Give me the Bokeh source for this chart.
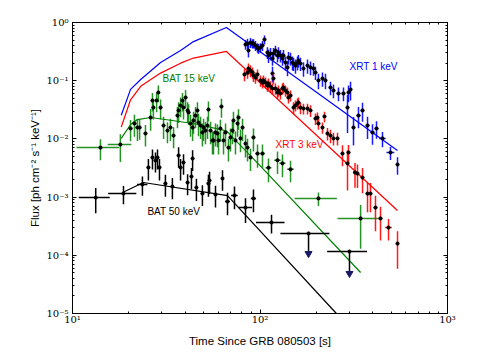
import numpy as np
from bokeh.plotting import figure
from bokeh.models import Range1d, LogAxis, FixedTicker, Label
from bokeh.embed import file_html
from bokeh.resources import INLINE

# ---------------- model curves ----------------
m_xrt1_t = [18.2, 20.4, 23.1, 29.5, 37.7, 44.2, 66.2, 541.0]
m_xrt1_f = [0.0255, 0.071, 0.105, 0.205, 0.33, 0.47, 0.82, 0.0063]

m_xrt3_t = [18.2, 20.4, 23.1, 29.5, 37.7, 44.2, 66.2, 541.0]
m_xrt3_f = [0.016, 0.047, 0.08, 0.135, 0.2, 0.245, 0.318, 0.00059]

m_bat15_t = [18.2, 20.4, 22.2, 26.1, 44.2, 66.2, 100.6, 344.0]
m_bat15_f = [0.0102, 0.0177, 0.0215, 0.0233, 0.0184, 0.0137, 0.0034, 0.0000506]

m_bat50_t = [18.5, 23.9, 67.1, 252.7, 300.0]
m_bat50_f = [0.0012, 0.00178, 0.00106, 0.0000104, 0.0000057]

# ---------------- BAT 15 keV data ----------------
bat15_t = [14.1, 18.0, 20.4, 21.4, 22.2, 22.8, 24.5, 26.1, 26.7, 27.0, 28.1, 28.7, 29.5, 30.6,
           32.1, 33.3, 34.6, 36.3, 36.8, 37.7, 38.6, 39.1, 40.1, 41.1, 41.6, 42.6, 43.7, 44.2,
           45.3, 46.4, 47.0, 48.2, 49.3, 50.0, 51.2, 52.5, 53.1, 54.5, 55.8, 56.5, 57.9, 59.3,
           60.1, 61.5, 62.3, 63.9, 65.5, 67.9, 69.6, 71.3, 72.2, 74.0, 75.9, 76.8, 78.7, 80.7,
           83.7, 85.8, 89.0, 92.3, 97.0, 103.1, 111.0, 124.0, 131.8, 145.5, 205.0, 344.0]
bat15_f = [0.0071, 0.0080, 0.0151, 0.0184, 0.0157, 0.0157, 0.0124, 0.0233, 0.0457, 0.0346,
           0.0457, 0.0627, 0.0346, 0.0170, 0.0139, 0.0157, 0.0114, 0.0252, 0.0308, 0.0375,
           0.0457, 0.0346, 0.0514, 0.0308, 0.0284, 0.0184, 0.0157, 0.0207, 0.0252, 0.0308,
           0.0191, 0.0170, 0.0129, 0.0157, 0.0139, 0.0170, 0.0320, 0.0139, 0.0094, 0.0094,
           0.0129, 0.0124, 0.0094, 0.0151, 0.0360, 0.0094, 0.0129, 0.0071, 0.0106, 0.0139,
           0.0207, 0.0094, 0.0184, 0.0233, 0.0102, 0.0157, 0.0083, 0.0071, 0.0048, 0.0106,
           0.0056, 0.0056, 0.0032, 0.0043, 0.0038, 0.0030, 0.00095, 0.00043]
bat15_fe = [0.0028, 0.0040, 0.0060, 0.0075, 0.0065, 0.0060, 0.0050, 0.0095, 0.016, 0.013,
            0.017, 0.020, 0.013, 0.0070, 0.0055, 0.0065, 0.0045, 0.0100, 0.012, 0.014,
            0.016, 0.013, 0.018, 0.012, 0.011, 0.0075, 0.0065, 0.0085, 0.010, 0.012,
            0.0080, 0.0070, 0.0055, 0.0065, 0.0058, 0.0070, 0.012, 0.0058, 0.0040, 0.0040,
            0.0055, 0.0052, 0.0040, 0.0062, 0.013, 0.0040, 0.0055, 0.0030, 0.0045, 0.0058,
            0.0085, 0.0040, 0.0075, 0.0090, 0.0043, 0.0065, 0.0035, 0.0030, 0.0020, 0.0045,
            0.0024, 0.0024, 0.0014, 0.0018, 0.0016, 0.0012, 0.00025, 0.0003]
bat15_te = [3.6, 2.6, 0.5, 0.5, 0.5, 0.5, 0.5, 0.5, 0.5, 0.5, 0.5, 0.5, 0.5, 0.5,
            0.5, 0.5, 0.5, 0.5, 0.5, 0.5, 0.5, 0.5, 0.8, 0.8, 0.8, 0.8, 0.8, 0.8,
            0.8, 0.8, 0.8, 0.8, 0.8, 0.8, 0.8, 0.8, 0.8, 0.8, 0.8, 0.8, 0.8, 0.8,
            1.2, 1.2, 1.2, 1.2, 1.2, 1.2, 1.2, 1.2, 1.2, 1.2, 1.2, 1.2, 1.2, 1.2,
            1.2, 1.2, 1.5, 2.0, 2.5, 3.0, 4.0, 5.0, 5.0, 6.0, 52.0, 85.0]

# ---------------- BAT 50 keV data ----------------
bat50_t = [13.3, 18.7, 23.6, 25.4, 26.7, 27.7, 28.4, 29.1, 31.3, 34.1, 36.8, 37.7, 39.1, 41.1,
           43.1, 43.7, 45.8, 49.3, 53.1, 53.8, 57.9, 63.1, 67.1, 73.1, 83.7, 92.3, 115.2]
bat50_f = [0.00098, 0.00115, 0.00165, 0.00323, 0.00479, 0.00425, 0.00479, 0.00323, 0.00171,
           0.00152, 0.00519, 0.00323, 0.00393, 0.00178, 0.00226, 0.00460, 0.00146, 0.00115,
           0.00171, 0.00193, 0.00111, 0.00209, 0.00084, 0.00107, 0.00066, 0.00095, 0.000366]
bat50_fe = [0.00045, 0.0004, 0.0006, 0.0013, 0.0018, 0.0016, 0.0018, 0.0013, 0.0007, 0.0006,
            0.002, 0.0013, 0.0015, 0.0007, 0.0009, 0.0018, 0.0006, 0.00045, 0.0007, 0.0008,
            0.00045, 0.0008, 0.00035, 0.00045, 0.0003, 0.0004, 0.00013]
bat50_te = [2.5, 3.2, 1.5, 0.5, 0.5, 0.5, 0.5, 0.5, 0.6, 0.6, 0.6, 0.6, 0.7, 0.7,
            0.8, 0.8, 0.8, 0.9, 1.0, 1.0, 1.0, 1.1, 2.0, 3.0, 7.0, 3.0, 20.0]
bat50_ul_t = [181.5, 300.1]
bat50_ul_f = [0.000237, 0.000116]
bat50_ul_te = [53.0, 72.0]
bat50_ul_tip = [0.000107, 0.0000487]

# ---------------- XRT 1 keV data ----------------
xrt1_t = [83.7, 85.8, 86.8, 89.0, 91.2, 92.3, 94.6, 97.0, 98.2, 100.6, 103.1, 105.7, 109.6,
          111.0, 113.8, 116.6, 116.6, 118.0, 120.9, 124.0, 125.5, 128.6, 131.8, 133.4, 136.8,
          140.2, 141.9, 145.5, 149.1, 151.0, 154.6, 158.5, 160.4, 164.4, 170.6, 179.2, 186.0,
          192.9, 197.7, 205.0, 215.4, 223.5, 237.7, 246.6, 262.2, 278.8, 292.9, 296.5, 304.0,
          315.3, 335.2, 352.2, 374.5, 398.1, 418.2, 450.1, 496.6, 541.3]
xrt1_f = [0.419, 0.436, 0.330, 0.453, 0.436, 0.436, 0.403, 0.372, 0.357, 0.372, 0.403, 0.510,
          0.305, 0.271, 0.293, 0.241, 0.133, 0.293, 0.330, 0.271, 0.305, 0.271, 0.241, 0.271,
          0.205, 0.169, 0.250, 0.241, 0.205, 0.197, 0.182, 0.205, 0.222, 0.197, 0.162, 0.182,
          0.169, 0.162, 0.138, 0.101, 0.109, 0.101, 0.0764, 0.0679, 0.0603, 0.0603, 0.0346,
          0.0627, 0.0706, 0.0157, 0.0252, 0.0308, 0.0170, 0.0129, 0.0151, 0.0102, 0.00584, 0.00363]
xrt1_fe = [0.08, 0.09, 0.08, 0.09, 0.08, 0.08, 0.08, 0.07, 0.07, 0.07, 0.08, 0.09, 0.07,
           0.07, 0.07, 0.06, 0.04, 0.07, 0.07, 0.065, 0.07, 0.065, 0.06, 0.065, 0.055,
           0.05, 0.06, 0.06, 0.055, 0.05, 0.05, 0.055, 0.055, 0.05, 0.045, 0.05, 0.045,
           0.04, 0.035, 0.03, 0.03, 0.03, 0.02, 0.018, 0.016, 0.016, 0.022, 0.02, 0.025,
           0.008, 0.01, 0.011, 0.007, 0.005, 0.005, 0.003, 0.0015, 0.0012]
xrt1_te = [1, 1, 1, 1, 1, 1, 1, 1, 1, 1.5, 1.5, 1.5, 1.5, 1.5, 1.5, 1.5, 1.5, 1.5, 1.5, 1.5,
           2, 2, 2, 2, 2, 2, 2, 2, 2, 2, 2, 2, 2, 2, 3, 3, 3, 3, 3, 4,
           4, 4, 5, 5, 6, 6, 4, 4, 5, 6, 8, 8, 8, 10, 10, 18, 24, 5]

# ---------------- XRT 3 keV data ----------------
xrt3_t = [82.7, 85.8, 86.8, 89.0, 91.2, 92.3, 94.6, 97.0, 100.6, 103.1, 104.4, 107.0, 109.6,
          111.0, 113.8, 116.6, 118.0, 120.9, 124.0, 125.5, 128.6, 131.8, 133.4, 136.8, 140.2,
          141.9, 145.5, 151.0, 154.6, 158.5, 160.4, 164.4, 170.6, 179.2, 186.0, 197.7, 202.6,
          205.0, 215.4, 220.8, 229.1, 237.7, 246.6, 259.0, 275.4, 292.9, 296.5, 321.1, 331.1,
          352.2, 374.5, 388.4, 413.0, 439.3, 484.6, 541.3]
xrt3_f = [0.128, 0.138, 0.162, 0.150, 0.138, 0.123, 0.1135, 0.128, 0.101, 0.0931, 0.101, 0.0931,
          0.0827, 0.0895, 0.0795, 0.0734, 0.109, 0.0734, 0.0627, 0.0679, 0.0603, 0.0734, 0.0764,
          0.0679, 0.0627, 0.0514, 0.0557, 0.0346, 0.0375, 0.0406, 0.0422, 0.0346, 0.0333, 0.0333,
          0.0308, 0.0224, 0.0233, 0.0184, 0.0157, 0.0243, 0.0124, 0.0114, 0.0102, 0.0102, 0.0056,
          0.0038, 0.00584, 0.00265, 0.00254, 0.00217, 0.00115, 0.00115, 0.00066, 0.00043, 0.0003,
          0.000159]
xrt3_fe = [0.03, 0.03, 0.035, 0.035, 0.03, 0.028, 0.025, 0.028, 0.022, 0.02,
           0.022, 0.02, 0.018, 0.02, 0.018, 0.016, 0.022, 0.016, 0.014, 0.015,
           0.013, 0.016, 0.016, 0.015, 0.014, 0.011, 0.012, 0.008, 0.008, 0.009,
           0.009, 0.008, 0.007, 0.007, 0.007, 0.005, 0.005, 0.004, 0.0035, 0.005,
           0.003, 0.003, 0.0025, 0.0025, 0.0022, 0.0025, 0.002, 0.0012, 0.0011, 0.001,
           0.0006, 0.0006, 0.0004, 0.00025, 0.00012, 0.0001]
xrt3_te = [1, 1, 1, 1, 1, 1, 1, 1, 1, 1, 1.5, 1.5, 1.5, 1.5, 1.5, 1.5, 1.5, 1.5, 1.5, 1.5,
           2, 2, 2, 2, 2, 2, 2, 2, 2, 2, 3, 3, 3, 3, 3, 3, 3, 3, 3, 3,
           4, 4, 4, 5, 5, 6, 6, 5, 5, 6, 8, 8, 10, 10, 20, 8]

# ---------------- axes / ticks / labels ----------------
x_ticks = [10, 100, 1000]
x_tick_labels = ["10\u00b9", "10\u00b2", "10\u00b3"]
y_ticks = [1e-5, 1e-4, 1e-3, 1e-2, 1e-1, 1.0]
y_tick_labels = ["10\u207b\u2075", "10\u207b\u2074", "10\u207b\u00b3", "10\u207b\u00b2", "10\u207b\u00b9", "10\u2070"]
x_minor = [m * d for d in (10, 100) for m in range(2, 10)]
y_minor = [m * d for d in (1e-5, 1e-4, 1e-3, 1e-2, 1e-1) for m in range(2, 10)]

x_title = "Time Since GRB 080503 [s]"
y_title = "Flux [ph cm\u207b\u00b2 s\u207b\u00b9 keV\u207b\u00b9]"

series_labels = ["XRT 1 keV", "XRT 3 keV", "BAT 15 keV", "BAT 50 keV"]
label_t = [300.0, 121.0, 30.2, 25.1]
label_f = [0.175, 0.0080, 0.111, 0.000566]
label_colors = ["#0000ff", "#ff0000", "#008000", "#000000"]

p = figure(x_axis_type="log", y_axis_type="log",
           x_range=Range1d(10, 1000), y_range=Range1d(1e-5, 1.0),
           frame_width=375, frame_height=291,
           min_border_left=72, min_border_right=30, min_border_top=22, min_border_bottom=46,
           output_backend="svg", toolbar_location=None)
p.background_fill_color = "white"
p.border_fill_color = "white"
p.outline_line_color = "black"
p.outline_line_width = 1
p.xgrid.visible = False
p.ygrid.visible = False

GREEN = "#008000"
BLUE = "#0000ff"
RED = "#ff0000"


def style_axis(ax):
    ax.major_tick_in = 4
    ax.major_tick_out = 0
    ax.minor_tick_in = 2
    ax.minor_tick_out = 0
    ax.axis_line_color = "black"
    ax.major_tick_line_color = "black"
    ax.minor_tick_line_color = "black"
    ax.major_label_text_font = "DejaVu Serif"
    ax.major_label_text_font_size = "10px"
    ax.major_label_text_color = "black"
    ax.axis_label_text_font = "Liberation Sans"
    ax.axis_label_text_font_size = "11.5px"
    ax.axis_label_text_font_style = "normal"
    ax.axis_label_text_color = "black"


xa = p.xaxis[0]
ya = p.yaxis[0]
xa.ticker = FixedTicker(ticks=x_ticks, minor_ticks=x_minor)
ya.ticker = FixedTicker(ticks=y_ticks, minor_ticks=y_minor)
xa.major_label_overrides = dict(zip(x_ticks, x_tick_labels))
ya.major_label_overrides = dict(zip(y_ticks, y_tick_labels))
xa.axis_label = x_title
ya.axis_label = y_title
style_axis(xa)
style_axis(ya)
xa.major_label_standoff = 0
ya.major_label_standoff = 4
xa.axis_label_standoff = 7
ya.axis_label_standoff = 2

top = LogAxis(ticker=FixedTicker(ticks=x_ticks, minor_ticks=x_minor))
right = LogAxis(ticker=FixedTicker(ticks=y_ticks, minor_ticks=y_minor))
for ax in (top, right):
    style_axis(ax)
    ax.major_label_text_font_size = "1px"
    ax.major_label_text_alpha = 0.0
    ax.major_label_standoff = 0
p.add_layout(top, "above")
p.add_layout(right, "right")

# ---------------- models ----------------
p.line(m_xrt1_t, m_xrt1_f, line_color=BLUE, line_width=1.2)
p.line(m_xrt3_t, m_xrt3_f, line_color=RED, line_width=1.2)
p.line(m_bat15_t, m_bat15_f, line_color=GREEN, line_width=1.2)
p.line(m_bat50_t, m_bat50_f, line_color="black", line_width=1.2)


def errbars(t, f, fe, te, color, alpha=1.0):
    t = np.asarray(t, float)
    f = np.asarray(f, float)
    fe = np.asarray(fe, float)
    te = np.asarray(te, float)
    p.segment(t, f - fe, t, f + fe, line_color=color, line_width=1.5, line_alpha=alpha)
    p.segment(t - te, f, t + te, f, line_color=color, line_width=1.5, line_alpha=alpha)
    p.scatter(t, f, size=3.2, marker="circle", fill_color="black", line_color="black")


errbars(bat15_t, bat15_f, bat15_fe, bat15_te, GREEN, 0.85)
errbars(bat50_t, bat50_f, bat50_fe, bat50_te, "black")
errbars(xrt1_t, xrt1_f, xrt1_fe, xrt1_te, BLUE, 0.9)
errbars(xrt3_t, xrt3_f, xrt3_fe, xrt3_te, RED, 0.9)

# upper limits
ul_t = np.asarray(bat50_ul_t)
ul_f = np.asarray(bat50_ul_f)
ul_te = np.asarray(bat50_ul_te)
p.segment(ul_t - ul_te, ul_f, ul_t + ul_te, ul_f, line_color="black", line_width=1.5)
p.segment(ul_t, ul_f, ul_t, bat50_ul_tip, line_color="black", line_width=1.5)
p.scatter(ul_t, bat50_ul_tip, marker="inverted_triangle", size=7,
          fill_color="#1a1a66", line_color="#1a1a66")
p.scatter(ul_t, ul_f, size=3.2, fill_color="black", line_color="black")

for txt, lt, lf, c in zip(series_labels, label_t, label_f, label_colors):
    p.add_layout(Label(x=lt, y=lf, text=txt, text_color=c, text_font="Liberation Sans",
                       text_font_size="10px", text_baseline="middle", text_align="left"))

open("out.html", "w").write(file_html(p, INLINE))
